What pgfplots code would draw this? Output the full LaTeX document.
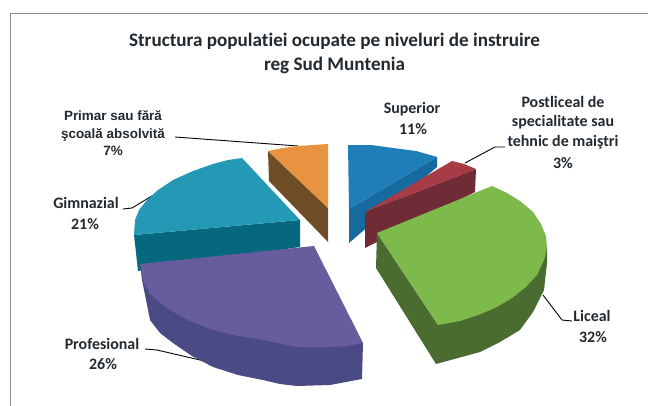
\documentclass[border=0pt]{standalone}
\usepackage{pgfplots}
\pgfplotsset{compat=1.18}
\usepackage{fontspec}
\setmainfont{Carlito}[Ligatures={NoCommon,TeX}]
\newfontfamily\arialf{Liberation Sans}
\definecolor{oT}{HTML}{E8933F}\definecolor{oS}{HTML}{6E4C26}
\definecolor{tT}{HTML}{2499B5}\definecolor{tS}{HTML}{05687C}
\definecolor{pT}{HTML}{675C9E}\definecolor{pS}{HTML}{4A4A84}
\definecolor{bT}{HTML}{1F7DB8}\definecolor{bS}{HTML}{176A9E}
\definecolor{rT}{HTML}{A83C46}\definecolor{rS}{HTML}{6F2C36}
\definecolor{gT}{HTML}{7DB94B}\definecolor{gS}{HTML}{4A6C30}
\definecolor{tx}{HTML}{222A30}
\tikzset{lbl/.style={font=\fontsize{16}{16}\selectfont\bfseries, text=tx, inner sep=0pt, anchor=center}}
\tikzset{alb/.style={font=\fontsize{13.5}{13.5}\selectfont\arialf\bfseries, text=tx, inner sep=0pt, anchor=center}}
\begin{document}
\begin{tikzpicture}[x=1bp,y=1bp]
\begin{axis}[
  scale only axis, width=648bp, height=406bp,
  xmin=0, xmax=648, ymin=0, ymax=406, y dir=reverse,
  axis lines=none, clip=true,
  every axis plot/.append style={line join=round},
]
% background and frame
\addplot[fill=white, draw=none, forget plot] coordinates {(0,0)(648,0)(648,406)(0,406)} --cycle;
\addplot[draw=black!45, line width=1pt] coordinates {(10,406)(10,13)(648,13)};
% leaders
\addplot[black, line width=0.9pt] coordinates {(175,137)(298,146)};
\addplot[black, line width=0.9pt] coordinates {(123,209)(132,208)(165,188)};
\addplot[black, line width=0.9pt] coordinates {(505,147)(495,147)(465,163)};
\addplot[black, line width=0.9pt] coordinates {(572,321)(562,320)(543,295)};
\addplot[black, line width=0.9pt] coordinates {(145,349)(157,350)(213,363)(233,370)};
% orange
\addplot[fill=oS, draw=none] coordinates {(268,151)(328,208)(328,242)(269,181)} --cycle;
\addplot[fill=oT, draw=none] coordinates {(268,151)(283,148)(298,146)(313,145)(328,144)(328,208)} --cycle;
% teal
\addplot[fill=tS, draw=none] coordinates {(134,235)(300,220)(300,247)(138,271)} --cycle;
\addplot[fill=tT, draw=none] coordinates {(242,158)(228,160)(213,164)(193,171)(173,180)(158,190)(147,200)(139,210)(135,220)(134,235)(300,220)} --cycle;
% purple
\addplot[fill=pS, draw=none] coordinates {(140,264)(142,280)(150,320)(160,333)(173,343)(192,356)(213,367)(238,375)(263,380)(280,384)(297,386)(330,385)(362,379)(363,343)} --cycle;
\addplot[fill=pT, draw=none] coordinates {(140,264)(314,246)(363,343)(347,346)(330,347)(297,347)(263,340)(238,336)(213,330)(190,321)(170,310)(158,301)(150,293)(144,283)} --cycle;
% blue
\addplot[fill=bS, draw=none] coordinates {(437,157)(437,167)(349,243)(349,209)} --cycle;
\addplot[fill=bT, draw=none] coordinates {(348,145)(371,145)(393,148)(416,151)(437,157)(349,209)} --cycle;
% red
\addplot[fill=rS, draw=none] coordinates {(476,169)(475,192)(365,248)(365,212)} --cycle;
\addplot[fill=rT, draw=none] coordinates {(452,161)(464,164)(476,169)(365,212)} --cycle;
% green
\addplot[fill=gS, draw=none] coordinates {(377,233)(376,268)(436,364)(480,352)(500,342)(520,330)(533,312)(544,290)(547,263)(547,248)(438,325)} --cycle;
\addplot[fill=gT, draw=none] coordinates {(377,233)(492,186)(507,193)(520,201)(533,212)(541,224)(546,236)(547,248)(544,260)(537,275)(526,287)(512,298)(497,307)(481,314)(460,321)(438,325)} --cycle;
% title
\node[font=\fontsize{19.2}{19.2}\selectfont\bfseries, text=tx, inner sep=0pt] at (axis cs:334.5,41) {Structura populatiei ocupate pe niveluri de instruire};
\node[font=\fontsize{19.2}{19.2}\selectfont\bfseries, text=tx, inner sep=0pt] at (axis cs:334.5,65) {reg Sud Muntenia};
% labels
\node[alb] at (axis cs:113,116) {Primar sau fără};
\node[alb] at (axis cs:113,135) {şcoală absolvită};
\node[alb] at (axis cs:113,151) {7\%};
\node[lbl] at (axis cs:86,203) {Gimnazial};
\node[lbl] at (axis cs:85,224) {21\%};
\node[lbl] at (axis cs:102,344) {Profesional};
\node[lbl] at (axis cs:103,364) {26\%};
\node[lbl] at (axis cs:592,316) {Liceal};
\node[lbl] at (axis cs:593,337) {32\%};
\node[lbl] at (axis cs:412,109) {Superior};
\node[lbl] at (axis cs:413,129) {11\%};
\node[lbl] at (axis cs:563,102) {Postliceal de};
\node[lbl] at (axis cs:563,122) {specialitate sau};
\node[lbl] at (axis cs:563,142) {tehnic de maiştri};
\node[lbl] at (axis cs:563,163) {3\%};
\end{axis}
\end{tikzpicture}
\end{document}
